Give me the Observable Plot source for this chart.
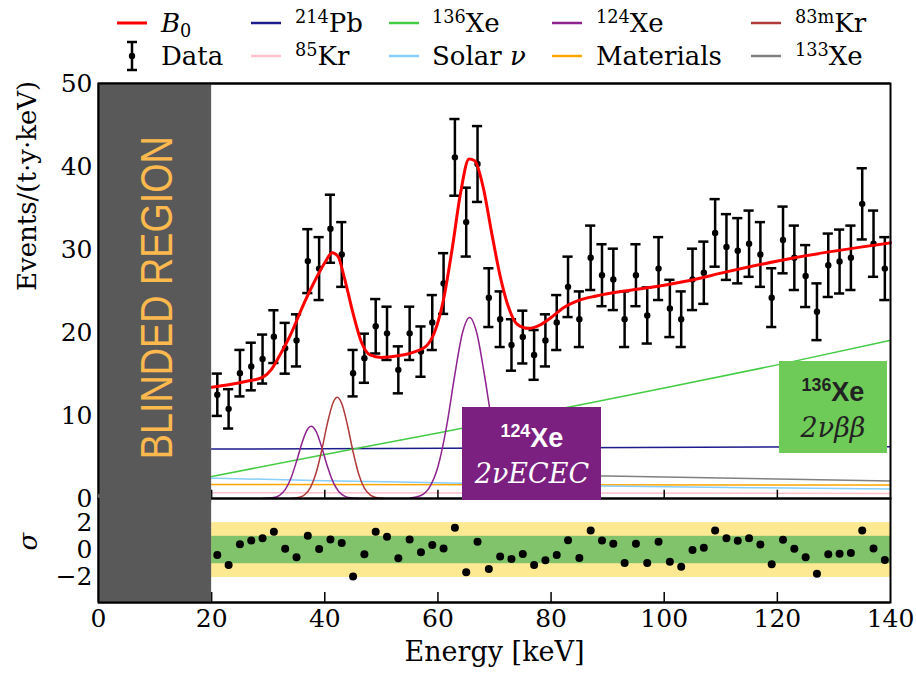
<!DOCTYPE html>
<html><head><meta charset="utf-8">
<script src="https://cdn.jsdelivr.net/npm/d3@7"></script>
<script src="https://cdn.jsdelivr.net/npm/@observablehq/plot@0.6"></script>
<style>
body{margin:0;background:#fff;}
#wrap{position:relative;width:916px;height:677px;background:#fff;overflow:hidden;font-family:"DejaVu Serif",serif;}
#wrap svg.pl{position:absolute;left:0;}
.leg{position:absolute;font-size:26px;line-height:1;white-space:nowrap;color:#000;transform:translateY(-50%);}
.sw{position:absolute;}
sup{font-size:0.68em;vertical-align:0;position:relative;top:-0.5em;}
sub{font-size:0.68em;vertical-align:0;position:relative;top:0.3em;}
.box{position:absolute;}
.bl{position:absolute;left:0;right:0;text-align:center;line-height:1;white-space:nowrap;transform:translateY(-50%);}
.iso{font-family:"Liberation Sans",Arial,sans-serif;font-size:27px;font-weight:bold;}
.iso sup{font-size:0.66em;top:-0.55em;}
.mode{font-family:"DejaVu Serif",serif;font-style:italic;font-size:27px;}
</style></head><body><div id="wrap"></div>
<script>
// ---------- data ----------
const energy = [21,23,25,27,29,31,33,35,37,39,41,43,45,47,49,51,53,55,57,59,61,63,65,67,69,71,73,75,77,79,81,83,85,87,89,91,93,95,97,99,101,103,105,107,109,111,113,115,117,119,121,123,125,127,129,131,133,135,137,139];
const events = [12.5,10.8,15.1,15.9,16.8,19.5,18.1,19.05,28.6,27.7,32.5,29.4,15.1,16.9,20.75,19.9,15.5,19.9,17.7,21.2,25.9,41.1,33.3,40.3,24.2,21.6,18.5,19.45,17.3,19.05,21.2,25.5,21.6,29.0,26.9,26.4,21.6,26.9,22.05,27.7,22.9,21.6,26.4,27.2,32.0,30.3,29.85,30.7,29.4,24.2,31.15,29.0,26.8,22.5,28.1,28.55,29.0,35.5,30.7,27.7];
const errors = [2.55,2.37,2.8,2.87,2.95,3.18,3.06,3.14,3.85,3.79,4.1,3.9,2.8,2.96,3.28,3.21,2.83,3.21,3.03,3.31,3.66,4.62,4.15,4.57,3.54,3.35,3.1,3.18,3.0,3.14,3.31,3.64,3.35,3.88,3.73,3.7,3.35,3.73,3.38,3.79,3.45,3.35,3.7,3.75,4.07,3.96,3.93,3.99,3.9,3.54,4.02,3.88,3.73,3.42,3.82,3.85,3.88,4.29,3.99,3.79];
const residuals = [-0.36,-1.1,0.43,0.7,0.85,1.33,0.1,-0.53,1.04,0.07,0.77,0.51,-1.93,-0.31,1.33,0.97,-0.6,0.77,-0.17,0.36,0.12,1.62,-1.62,0.6,-1.38,-0.48,-0.65,-0.29,-1.09,-0.75,-0.36,0.72,-0.58,1.43,0.7,0.46,-0.94,0.46,-0.94,0.6,-0.85,-1.23,0.0,0.17,1.43,0.85,0.68,0.85,0.41,-1.04,0.75,0.1,-0.53,-1.74,-0.31,-0.27,-0.22,1.43,0.12,-0.72];

const b0E = [20,23,26,29,30.5,32,34,36,38,40,41.3,42.3,43.5,45,46.5,48,50,53,56,58,59.5,61,62.5,64,65.5,66.5,68,69.5,71,72.5,74,76,78,80,82,85,88,94,100,104,111,123,140];
const b0V = [13.4,13.7,14.1,14.6,15.5,17.2,19.8,23.0,25.9,28.4,29.6,29.2,26.5,22.3,18.8,17.3,17.0,17.2,17.7,18.4,20.2,24.0,30.0,36.8,40.9,40.7,37.5,32.0,26.8,23.0,21.0,20.5,20.9,21.8,22.9,23.9,24.4,25.1,25.7,26.2,27.3,29.0,30.8];

const pb214E = [20,140];
const pb214V = [5.95,6.25];
const xe136E = [20,40,60,80,100,120,140];
const xe136V = [2.65,5.3,7.9,10.6,13.3,16.1,19.05];
const xe124E = [29,31,32,33,34,35,36,37,37.6,38.5,39.5,40.5,41.5,42.5,43.5,44.5,46,
                55,57,58.5,60,61.5,63,64.3,65.6,66.9,68.2,69.7,71.2,72.7,74.2,76.2];
const xe124V = [0,0.12,0.39,1.07,2.42,4.46,6.76,8.4,8.7,8.03,6.09,3.79,1.94,0.81,0.28,0.08,0,
                0.04,0.36,1.33,3.82,8.57,14.97,19.85,21.8,19.85,14.97,8.57,3.82,1.33,0.36,0.04];
const xe124Peak = [0,0,0,0,0,0,0,0,0,0,0,0,0,0,0,0,0, 1,1,1,1,1,1,1,1,1,1,1,1,1,1,1];
const kr83mE = [34,35.5,36.5,37.5,38.5,39.5,40.5,41.5,42.2,43,44,45,46,47,48,49,50.5];
const kr83mV = [0,0.15,0.49,1.38,3.16,5.94,9.17,11.6,12.2,11.45,8.86,5.63,2.93,1.25,0.44,0.13,0];
const kr85E = [20,140];
const kr85V = [0.7,0.6];
const solarE = [20,40,64,89,115,140];
const solarV = [2.45,2.15,1.85,1.5,1.3,1.15];
const materialsE = [20,140];
const materialsV = [1.68,1.62];
const xe133E = [81,90,100,120,140];
const xe133V = [2.75,2.7,2.58,2.34,2.12];

const xTicks = [0,20,40,60,80,100,120,140];
const yTicks = [0,10,20,30,40,50];
const sigmaTicks = [-2,0,2];
const blinded = [0,20];
const analysisRange = [20,140];
const bandOuter = [-2,2];
const bandInner = [-1,1];

const legendLabels = ["<i>B</i><sub>0</sub>","<sup>214</sup>Pb","<sup>136</sup>Xe","<sup>124</sup>Xe","<sup>83m</sup>Kr",
                      "Data","<sup>85</sup>Kr","Solar <i>ν</i>","Materials","<sup>133</sup>Xe"];
const legendColors = ["#ff0000","#1c1c8c","#44cc44","#8e2390","#b03a3a",
                      "#000000","#ffc0cb","#87cefa","#ffa500","#808080"];

// ---------- build ----------
const pts = energy.map((E,i)=>({E, v: events[i], e: errors[i], r: residuals[i]}));
const series = (Es, Vs) => Es.map((E,i)=>({E, v: Vs[i]}));
const b0 = series(b0E,b0V);
const xe124 = xe124E.map((E,i)=>({E, v: xe124V[i], peak: xe124Peak[i]}));

const X0 = 98, X1 = 890;
const wrap = document.getElementById("wrap");
const GRAY = "#595959";

const main = Plot.plot({
  width: 916, height: 500,
  marginTop: 83, marginBottom: 2, marginLeft: X0, marginRight: 916 - X1,
  x: {domain: [0,140], axis: null},
  y: {domain: [0,50]},
  style: {fontFamily: "DejaVu Serif", fontSize: "25px", background: "transparent", overflow: "visible"},
  marks: [
    Plot.line(series(kr85E,kr85V), {x:"E", y:"v", stroke: legendColors[6], strokeWidth: 1.5}),
    Plot.line(series(materialsE,materialsV), {x:"E", y:"v", stroke: legendColors[8], strokeWidth: 1.5}),
    Plot.line(series(solarE,solarV), {x:"E", y:"v", stroke: legendColors[7], strokeWidth: 1.5, curve: "monotone-x"}),
    Plot.line(series(xe133E,xe133V), {x:"E", y:"v", stroke: legendColors[9], strokeWidth: 1.5}),
    Plot.line(series(pb214E,pb214V), {x:"E", y:"v", stroke: legendColors[1], strokeWidth: 1.5}),
    Plot.line(series(xe136E,xe136V), {x:"E", y:"v", stroke: legendColors[2], strokeWidth: 1.5, curve: "monotone-x"}),
    Plot.line(xe124, {x:"E", y:"v", z:"peak", stroke: legendColors[3], strokeWidth: 1.5, curve: "monotone-x"}),
    Plot.line(series(kr83mE,kr83mV), {x:"E", y:"v", stroke: legendColors[4], strokeWidth: 1.5, curve: "monotone-x"}),
    Plot.ruleX(pts, {x:"E", y1: d => d.v - d.e, y2: d => d.v + d.e, stroke: "black", strokeWidth: 2.5}),
    Plot.ruleY(pts, {y: d => d.v + d.e, x1: d => d.E - 0.9, x2: d => d.E + 0.9, stroke: "black", strokeWidth: 2.5}),
    Plot.ruleY(pts, {y: d => d.v - d.e, x1: d => d.E - 0.9, x2: d => d.E + 0.9, stroke: "black", strokeWidth: 2.5}),
    Plot.dot(pts, {x:"E", y:"v", r: 3.2, fill: "black"}),
    Plot.line(b0, {x:"E", y:"v", stroke: legendColors[0], strokeWidth: 3, curve: "monotone-x"}),
    Plot.ruleX(xTicks.filter(t => t > 0 && t < 140), {x: d => d, y1: () => 0, y2: () => 1.0, stroke: "black", strokeWidth: 1.5}),
    Plot.frame({stroke: "black", strokeWidth: 2}),
    Plot.rect([{a: blinded[0], b: blinded[1]}], {x1: "a", x2: "b", y1: () => -0.5, y2: () => 50, fill: GRAY}),
    Plot.ruleX([blinded[0]], {x: d => d, stroke: "black", strokeWidth: 2}),
    Plot.ruleY([50], {y: d => d, stroke: "black", strokeWidth: 2}),
    Plot.text(["BLINDED REGION"], {x: () => 10.5, y: () => 24.2, rotate: -90, fill: "#fdb94e", fontSize: 44, fontFamily: "Liberation Sans"}),
    Plot.axisY({ticks: yTicks, tickSize: 0, tickPadding: 6, fontSize: 25, label: null}),
    Plot.text(["Events/(t·y·keV)"], {frameAnchor: "left", dx: -71, rotate: -90, fontSize: 26})
  ]
});
main.classList.add("pl");
main.style.top = "0px";
wrap.appendChild(main);
d3.select(main).selectAll("text").filter(function(){return this.textContent === "BLINDED REGION";})
  .attr("textLength", 323).attr("lengthAdjust", "spacingAndGlyphs");

const RES_TOP = 496;
const RLO = -3.83, RHI = 3.76;
const res = Plot.plot({
  width: 916, height: 677 - RES_TOP,
  marginTop: 2, marginBottom: 75, marginLeft: X0, marginRight: 916 - X1,
  x: {domain: [0,140], axis: null},
  y: {domain: [RLO, RHI]},
  style: {fontFamily: "DejaVu Serif", fontSize: "25px", background: "transparent", overflow: "visible"},
  marks: [
    Plot.rect([{a: analysisRange[0], b: analysisRange[1], lo: bandOuter[0], hi: bandOuter[1]}], {x1:"a", x2:"b", y1:"lo", y2:"hi", fill: "#fde992"}),
    Plot.rect([{a: analysisRange[0], b: analysisRange[1], lo: bandInner[0], hi: bandInner[1]}], {x1:"a", x2:"b", y1:"lo", y2:"hi", fill: "#80c36b"}),
    Plot.dot(pts, {x:"E", y:"r", r: 4, fill: "black"}),
    Plot.ruleX(xTicks.filter(t => t > 0 && t < 140), {x: d => d, y1: () => RLO, y2: () => RLO + 0.73, stroke: "black", strokeWidth: 1.5}),
    Plot.frame({stroke: "black", strokeWidth: 2}),
    Plot.rect([{a: blinded[0], b: blinded[1]}], {x1: "a", x2: "b", y1: () => RLO, y2: () => RHI + 0.3, fill: GRAY}),
    Plot.ruleX([blinded[0]], {x: d => d, stroke: "black", strokeWidth: 2}),
    Plot.ruleY([RLO], {y: d => d, stroke: "black", strokeWidth: 2}),
    Plot.axisX({ticks: xTicks, tickSize: 0, tickPadding: 7, fontSize: 25, label: null}),
    Plot.axisY({ticks: sigmaTicks, tickSize: 0, tickPadding: 6, fontSize: 25, label: null}),
    Plot.text(["Energy [keV]"], {frameAnchor: "bottom", dy: 58, fontSize: 27}),
    Plot.text(["σ"], {frameAnchor: "left", dx: -70, rotate: -90, fontSize: 26, fontStyle: "italic"})
  ]
});
res.classList.add("pl");
res.style.top = RES_TOP + "px";
wrap.appendChild(res);

// ---------- legend ----------
const colText = [161,295,432,596,795];
const colSw = [117,251,389,552,751];
const rowY = [23,56];
legendLabels.forEach((lab,i) => {
  const col = i % 5, row = Math.floor(i / 5);
  const t = document.createElement("div");
  t.className = "leg"; t.innerHTML = lab;
  t.style.left = colText[col] + "px"; t.style.top = rowY[row] + "px";
  wrap.appendChild(t);
  const s = d3.create("svg").attr("class","sw").attr("width",30).attr("height",34)
    .style("left", colSw[col] + "px").style("top", (rowY[row] - 17) + "px");
  if (lab === "Data") {
    s.append("line").attr("x1",15).attr("x2",15).attr("y1",3).attr("y2",31).attr("stroke","#000").attr("stroke-width",2.5);
    s.append("line").attr("x1",10).attr("x2",20).attr("y1",3).attr("y2",3).attr("stroke","#000").attr("stroke-width",2.5);
    s.append("line").attr("x1",10).attr("x2",20).attr("y1",31).attr("y2",31).attr("stroke","#000").attr("stroke-width",2.5);
    s.append("circle").attr("cx",15).attr("cy",17).attr("r",3.2).attr("fill","#000");
  } else {
    s.append("line").attr("x1",0).attr("x2",30).attr("y1",17).attr("y2",17)
      .attr("stroke", legendColors[i]).attr("stroke-width", i === 0 ? 3 : 2.5);
  }
  s.node().style.position = "absolute";
  wrap.appendChild(s.node());
});

// ---------- annotation boxes positioned via the plot's scales ----------
const sx = main.scale("x"), sy = main.scale("y");
function addBox(x1, x2, yTop, yBot, bg, fg, iso, mode) {
  const b = document.createElement("div");
  b.className = "box";
  const L = sx.apply(x1), R = sx.apply(x2), T = sy.apply(yTop), B = sy.apply(yBot);
  Object.assign(b.style, {left: L + "px", top: T + "px", width: (R - L) + "px", height: (B - T) + "px", background: bg, color: fg});
  const l1 = document.createElement("div"); l1.className = "bl iso"; l1.innerHTML = iso; l1.style.top = "31px";
  const l2 = document.createElement("div"); l2.className = "bl mode"; l2.innerHTML = mode; l2.style.top = "66px";
  b.appendChild(l1); b.appendChild(l2);
  wrap.appendChild(b);
}
addBox(64.4, 89.0, 11.0, -0.3, "#7b1f80", "#ffffff", "<sup>124</sup>Xe", "2νECEC");
addBox(120.35, 139.5, 16.56, 5.4, "#6fcb57", "#222222", "<sup>136</sup>Xe", "2νββ");
</script>
</body></html>
